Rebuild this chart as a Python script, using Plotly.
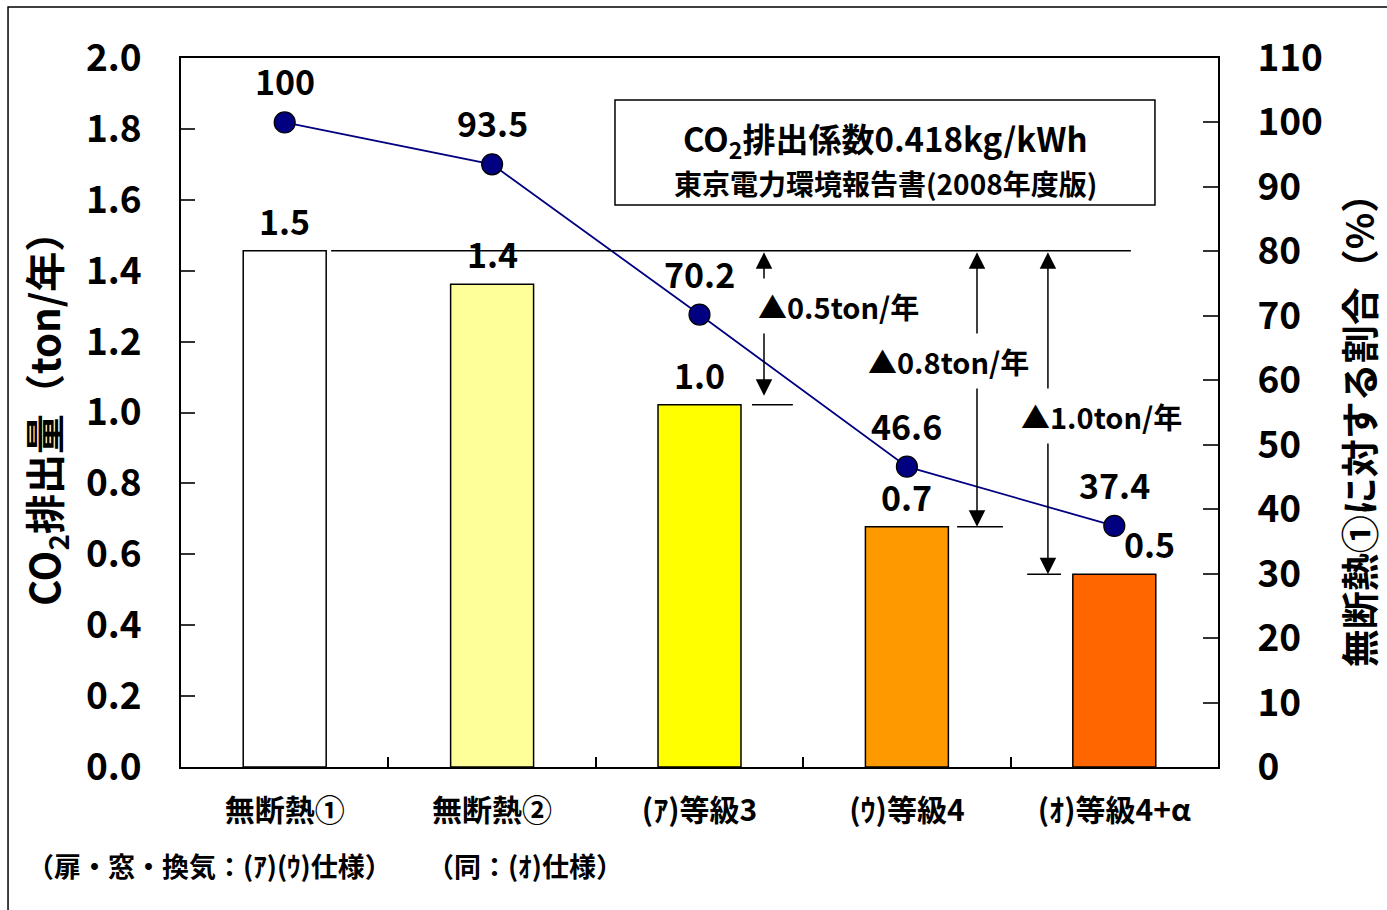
import plotly.graph_objects as go

# Categories and values
categories = ["無断熱①", "無断熱②", "(ｱ)等級3", "(ｳ)等級4", "(ｵ)等級4+α"]
co2_ton = [1.456, 1.362, 1.022, 0.678, 0.544]          # CO2 emissions (ton/year)
ratio_pct = [100, 93.5, 70.2, 46.6, 37.4]               # ratio to 無断熱① (%)
bar_colors = ["#FFFFFF", "#FFFF99", "#FFFF00", "#FF9900", "#FF6600"]
reduction_labels = ["▲0.5ton/年", "▲0.8ton/年", "▲1.0ton/年"]
left_ticks = [0.0, 0.2, 0.4, 0.6, 0.8, 1.0, 1.2, 1.4, 1.6, 1.8, 2.0]
right_ticks = [0, 10, 20, 30, 40, 50, 60, 70, 80, 90, 100, 110]

FONT = "Noto Sans CJK JP"
BLACK = "#000000"
NAVY = "#000080"

fig = go.Figure()

fig.add_trace(go.Bar(
    x=categories, y=co2_ton, width=0.4,
    marker=dict(color=bar_colors, line=dict(color=BLACK, width=1.5)),
    hoverinfo="skip", yaxis="y",
))

fig.add_trace(go.Scatter(
    x=categories, y=ratio_pct, mode="lines+markers", yaxis="y2",
    line=dict(color=NAVY, width=1.8),
    marker=dict(size=21, color=NAVY, line=dict(color=BLACK, width=1.2)),
    hoverinfo="skip",
))

annotations = []
shapes = []


def note(x, y, text, size, bold=True, **kw):
    """Free-standing text placed in paper coordinates."""
    d = dict(x=x, y=y, xref="paper", yref="paper", text=text, showarrow=False,
             xanchor="center", yanchor="middle",
             font=dict(family=FONT, size=size, color=BLACK,
                       weight="bold" if bold else "normal"))
    d.update(kw)
    return d


# Bar value labels (the last one sits to the right of the marker)
bar_label_dx = [0, 0, 0, 0, 35]
for i, v in enumerate(co2_ton):
    annotations.append(dict(
        x=i, y=v, xref="x", yref="y", text=f"{v:.1f}", showarrow=False,
        xanchor="center", yanchor="bottom", yshift=4, xshift=bar_label_dx[i],
        font=dict(family=FONT, size=34, color=BLACK, weight="bold"),
    ))

# Ratio labels above the markers
for i, r in enumerate(ratio_pct):
    annotations.append(dict(
        x=i, y=r, xref="x", yref="y2", text=f"{r:g}", showarrow=False,
        xanchor="center", yanchor="bottom", yshift=15,
        font=dict(family=FONT, size=34, color=BLACK, weight="bold"),
    ))

# Reference line at the 無断熱① level
shapes.append(dict(type="line", xref="x", yref="y", x0=0.224, x1=4.08,
                   y0=co2_ton[0], y1=co2_ton[0], line=dict(color=BLACK, width=1.5)))

# Reduction arrows from the reference level down to each bar
arrow_x = [2.311, 3.338, 3.680]
arrow_tick = [(2.253, 2.450), (3.242, 3.463), (3.580, 3.743)]
label_pos = [(2.671, 1.301), (3.201, 1.146), (3.940, 0.991)]
head_standoff = [9, 0, 0]
for k, idx in enumerate([2, 3, 4]):
    annotations.append(dict(
        x=arrow_x[k], y=co2_ton[idx], ax=arrow_x[k], ay=co2_ton[0],
        xref="x", yref="y", axref="x", ayref="y", text="",
        showarrow=True, arrowhead=2, startarrowhead=2, arrowside="end+start",
        arrowsize=2.2, startarrowsize=2.2, arrowwidth=1.5, arrowcolor=BLACK,
        standoff=head_standoff[k],
    ))
    shapes.append(dict(type="line", xref="x", yref="y",
                       x0=arrow_tick[k][0], x1=arrow_tick[k][1],
                       y0=co2_ton[idx], y1=co2_ton[idx],
                       line=dict(color=BLACK, width=1.5)))
for k, txt in enumerate(reduction_labels):
    annotations.append(dict(
        x=label_pos[k][0], y=label_pos[k][1], xref="x", yref="y", text=txt,
        showarrow=False, bgcolor="#FFFFFF", borderpad=6,
        xanchor="center", yanchor="middle",
        font=dict(family=FONT, size=29, color=BLACK, weight="bold"),
    ))

# Emission-factor note box
shapes.append(dict(type="rect", xref="paper", yref="paper",
                   x0=0.4185, x1=0.9392, y0=0.7927, y1=0.9408,
                   line=dict(color=BLACK, width=1.5)))
annotations.append(note(0.679, 0.884, "CO<sub>2</sub>排出係数0.418kg/kWh", 33))
annotations.append(note(0.679, 0.824, "東京電力環境報告書(2008年度版)", 28))

# Axis titles
annotations.append(note(-0.131, 0.505, "CO<sub>2</sub>排出量（ton/年）", 40,
                        textangle=-90))
annotations.append(note(1.134, 0.489, "無断熱①に対する割合（%）", 38,
                        textangle=-90))

# Specification notes under the category labels
annotations.append(note(-0.1504, -0.1396, "（扉・窓・換気：(ｱ)(ｳ)仕様）", 27,
                        xanchor="left"))
annotations.append(note(0.2353, -0.1396, "（同：(ｵ)仕様）", 27, xanchor="left"))

# Outer frame
shapes.append(dict(type="rect", xref="paper", yref="paper",
                   x0=-0.1668, x1=1.2, y0=-0.3, y1=1.0719,
                   line=dict(color=BLACK, width=1.5), layer="below"))

fig.update_layout(
    width=1387, height=910,
    margin=dict(l=181, r=169, t=58, b=143),
    paper_bgcolor="#FFFFFF", plot_bgcolor="#FFFFFF",
    showlegend=False,
    annotations=annotations, shapes=shapes,
    xaxis=dict(
        type="category", range=[-0.5, 4.5],
        showline=True, linecolor=BLACK, linewidth=2, mirror=True,
        ticks="inside", tickson="boundaries", ticklen=10, tickcolor=BLACK, tickwidth=1.5,
        showgrid=False, ticklabelstandoff=16,
        tickfont=dict(family=FONT, size=30, color=BLACK, weight="bold"),
    ),
    yaxis=dict(
        range=[0, 2.0], tickvals=left_ticks, tickformat=".1f",
        showline=True, linecolor=BLACK, linewidth=2,
        ticks="inside", ticklen=14, tickcolor="#333333", tickwidth=1.5,
        showgrid=False, zeroline=False, ticklabelstandoff=30,
        tickfont=dict(family=FONT, size=37, color=BLACK, weight="bold"),
    ),
    yaxis2=dict(
        range=[0, 110], tickvals=right_ticks, overlaying="y", side="right",
        showline=True, linecolor=BLACK, linewidth=2,
        ticks="inside", ticklen=15, tickcolor="#333333", tickwidth=1.5,
        showgrid=False, zeroline=False, ticklabelstandoff=30,
        tickfont=dict(family=FONT, size=37, color=BLACK, weight="bold"),
    ),
)

fig.write_html("out.html")
